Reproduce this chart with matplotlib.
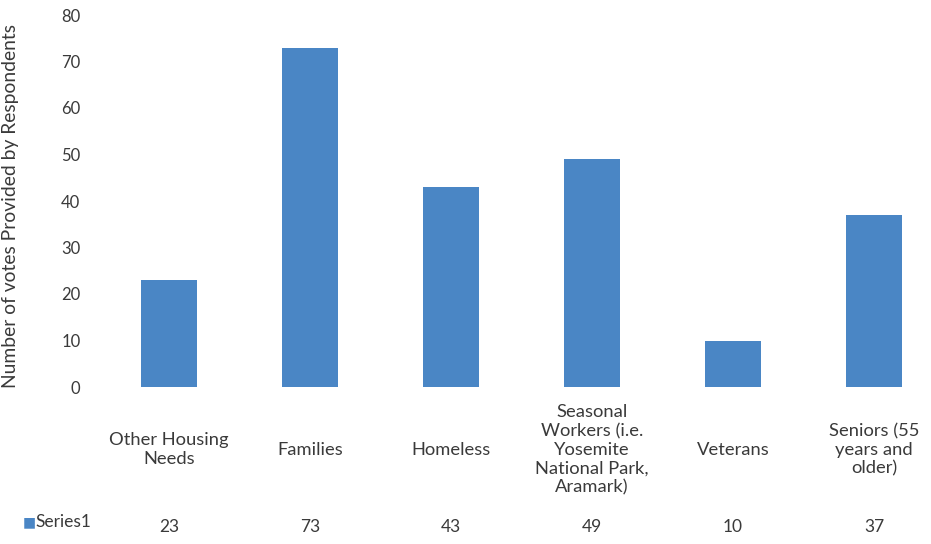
import matplotlib.pyplot as plt

categories = ['Other Housing\nNeeds', 'Families', 'Homeless',
              'Seasonal\nWorkers (i.e.\nYosemite\nNational Park,\nAramark)',
              'Veterans', 'Seniors (55\nyears and\nolder)']
votes = [23, 73, 43, 49, 10, 37]
series_name = 'Series1'

bar_color = '#4a86c5'
text_color = '#3a3a3a'

plt.rcParams['font.family'] = ['Lato', 'DejaVu Sans']

fig = plt.figure(figsize=(9.31, 5.44), dpi=100)
ax = fig.add_axes([86 / 931, 157 / 544, 845 / 931, 372 / 544])

x = list(range(len(votes)))
ax.bar(x, votes, width=0.4, color=bar_color)

ax.set_ylim(0, 80)
ax.set_xlim(-0.589, 5.404)
ax.set_yticks(range(0, 81, 10))
ax.tick_params(axis='y', length=0, labelsize=12, colors=text_color, pad=4)
ax.set_xticks([])
for s in ax.spines.values():
    s.set_visible(False)

ax.set_ylabel('Number of votes Provided by Respondents', fontsize=13.9,
              color=text_color)
ax.yaxis.set_label_coords((19 - 86) / 845, 0.487)

# data table under the chart
for i, (cat, v) in enumerate(zip(categories, votes)):
    ax.text(i, -13.5, cat, ha='center', va='center', fontsize=13.2,
            color=text_color, linespacing=1.2)
    ax.text(i, -30.1, str(v), ha='center', va='center', fontsize=12.5,
            color=text_color)

fig.text(29 / 931, 1 - 522 / 544, '\u25a0', color=bar_color, fontsize=10,
         ha='center', va='center')
fig.text(35 / 931, 1 - 522 / 544, series_name, color=text_color, fontsize=12.5,
         ha='left', va='center')

fig.savefig('out.png', dpi=100)
